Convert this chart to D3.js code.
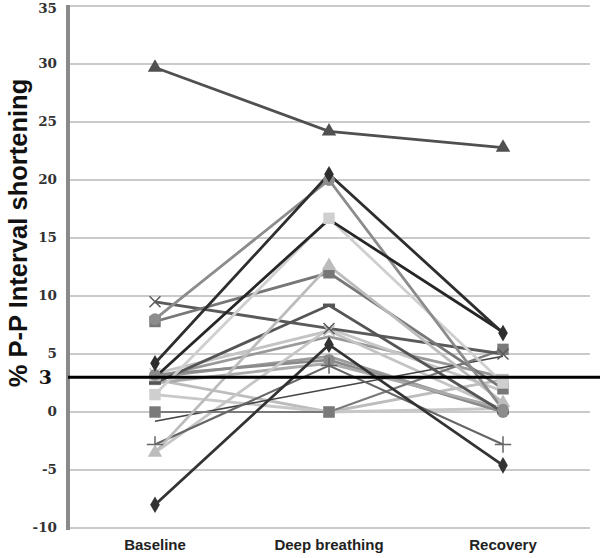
<!DOCTYPE html>
<html>
<head>
<meta charset="utf-8">
<script src="https://cdn.jsdelivr.net/npm/d3@7"></script>
<style>
  body { margin: 0; background: #fff; }
  svg { display: block; }
  .tick-label { font-family: 'DejaVu Serif', serif; font-weight: bold; font-size: 13.5px; fill: #333; }
  .cat-label { font-family: 'Liberation Sans', Arial, sans-serif; font-weight: bold; font-size: 15px; fill: #222; }
  .y-title { font-family: 'Liberation Sans', Arial, sans-serif; font-weight: bold; font-size: 25.5px; fill: #111; }
  .ref-label { font-family: 'DejaVu Serif', serif; font-weight: bold; font-size: 19px; fill: #111; }
</style>
</head>
<body>
<div id="chart"></div>
<script>

// Data
var categories = ['Baseline', 'Deep breathing', 'Recovery'];
var yTicks = [-10, -5, 0, 5, 10, 15, 20, 25, 30, 35];
var refValue = 3;

// one row per subject: baseline, deep breathing, recovery
var seriesValues = [
  [2.8, 0.0, 2.8],
  [1.5, 0.0, 0.3],
  [3.0, 6.5, 3.0],
  [3.3, 7.0, 0.2],
  [3.0, 4.8, 0.0],
  [3.2, 4.5, 0.0],
  [2.5, 4.2, 0.3],
  [-3.5, 7.2, 1.8],
  [-0.8, 2.0, 4.8],
  [0.0, 0.0, 5.4],
  [-2.8, 4.0, -2.8],
  [9.5, 7.2, 5.0],
  [2.5, 9.2, 0.0],
  [7.8, 12.0, 2.0],
  [-3.5, 12.6, 0.8],
  [1.5, 16.7, 2.5],
  [8.0, 20.0, 0.2],
  [3.0, 16.6, 6.9],
  [-8.0, 5.8, -4.6],
  [4.2, 20.5, 6.8],
  [29.7, 24.2, 22.8]
];

// styling per subject
var seriesColors = [
  '#bdbdbd', '#c8c8c8', '#999', '#c4c4c4', '#9a9a9a', '#8a8a8a', '#aaa',
  '#c6c6c6', '#444', '#7a7a7a', '#666', '#5a5a5a', '#555', '#777',
  '#bcbcbc', '#cfcfcf', '#8c8c8c', '#262626', '#333', '#2e2e2e', '#505050'
];
var seriesMarkers = [
  'square', 'none', 'none', 'x', 'none', 'circle', 'none',
  'none', 'none', 'square', 'plus', 'x', 'dash', 'square',
  'triangle', 'square', 'circle', 'none', 'diamond', 'diamond', 'triangle'
];
var seriesWidths = [
  2.8, 2.8, 2.8, 2.8, 2.8, 2.8, 2.8,
  2.8, 1.6, 2.2, 2.2, 2.8, 2.8, 2.8,
  2.8, 2.8, 2.8, 2.8, 2.8, 2.8, 2.8
];

var width = 600,
    height = 558,
    plotLeft = 68,
    plotRight = 590,
    plotTop = 6,
    plotBottom = 528;

var svg = d3.select('#chart')
  .append('svg')
    .attr('width', width)
    .attr('height', height);

var x = d3.scaleBand()
  .domain(categories)
  .range([plotLeft, plotRight])
  .padding(0);

var y = d3.scaleLinear()
  .domain([-10, 35])
  .range([plotBottom, plotTop]);

// Gridlines
svg.selectAll('.grid')
  .data(yTicks)
  .enter()
    .append('line')
      .attr('class', 'grid')
      .attr('x1', plotLeft)
      .attr('x2', plotRight)
      .attr('y1', function(d){ return y(d); })
      .attr('y2', function(d){ return y(d); })
      .attr('stroke', '#b8b8b8')
      .attr('stroke-width', 1.5);

// Tick labels (top one nudged down so it stays on the page)
svg.selectAll('.tick-label')
  .data(yTicks)
  .enter()
    .append('text')
      .attr('class', 'tick-label')
      .attr('x', 57)
      .attr('y', function(d){ return Math.max(y(d) + 4, 13); })
      .attr('text-anchor', 'end')
      .text(function(d){ return d; });

// Left axis
svg.append('line')
  .attr('x1', plotLeft)
  .attr('x2', plotLeft)
  .attr('y1', plotTop - 1)
  .attr('y2', plotBottom + 2)
  .attr('stroke', '#8a8a8a')
  .attr('stroke-width', 4);

// Category labels
svg.selectAll('.cat-label')
  .data(categories)
  .enter()
    .append('text')
      .attr('class', 'cat-label')
      .attr('x', function(d){ return x(d) + x.bandwidth() / 2; })
      .attr('y', 550)
      .attr('text-anchor', 'middle')
      .text(function(d){ return d; });

// Y title
svg.append('text')
  .attr('class', 'y-title')
  .attr('transform', 'translate(27,233) rotate(-90)')
  .attr('text-anchor', 'middle')
  .text('% P-P Interval shortening');

var cx = function(i){ return x(categories[i]) + x.bandwidth() / 2; };

var line = d3.line()
  .x(function(d, i){ return cx(i); })
  .y(function(d){ return y(d); });

// Series lines
svg.selectAll('.series')
  .data(seriesValues)
  .enter()
    .append('path')
      .attr('class', 'series')
      .attr('d', line)
      .attr('fill', 'none')
      .attr('stroke', function(d, i){ return seriesColors[i]; })
      .attr('stroke-width', function(d, i){ return seriesWidths[i]; });

// Markers
var shapes = {
  square: d3.symbolSquare,
  circle: d3.symbolCircle,
  diamond: d3.symbolDiamond,
  triangle: d3.symbolTriangle,
  x: d3.symbolX,
  plus: d3.symbolPlus
};
var sizes = { square: 130, circle: 110, diamond: 80, triangle: 90, x: 80, plus: 90 };

seriesValues.forEach(function(vals, s){
  var m = seriesMarkers[s];
  if (m === 'none') return;
  var g = svg.append('g');
  vals.forEach(function(v, i){
    if (m === 'dash') {
      g.append('line')
        .attr('x1', cx(i) - 6).attr('x2', cx(i) + 6)
        .attr('y1', y(v)).attr('y2', y(v))
        .attr('stroke', seriesColors[s])
        .attr('stroke-width', 3.5);
      return;
    }
    var stroked = (m === 'x' || m === 'plus');
    g.append('path')
      .attr('transform', 'translate(' + cx(i) + ',' + y(v) + ')')
      .attr('d', d3.symbol().type(shapes[m]).size(sizes[m])())
      .attr('fill', stroked ? 'none' : seriesColors[s])
      .attr('stroke', seriesColors[s])
      .attr('stroke-width', stroked ? 1.5 : 0);
  });
});

// Reference line at 3
svg.append('line')
  .attr('x1', plotLeft)
  .attr('x2', width)
  .attr('y1', y(refValue))
  .attr('y2', y(refValue))
  .attr('stroke', '#000')
  .attr('stroke-width', 3);

svg.append('text')
  .attr('class', 'ref-label')
  .attr('x', 52)
  .attr('y', y(refValue) + 7)
  .attr('text-anchor', 'end')
  .text(refValue);

</script>
</body>
</html>
